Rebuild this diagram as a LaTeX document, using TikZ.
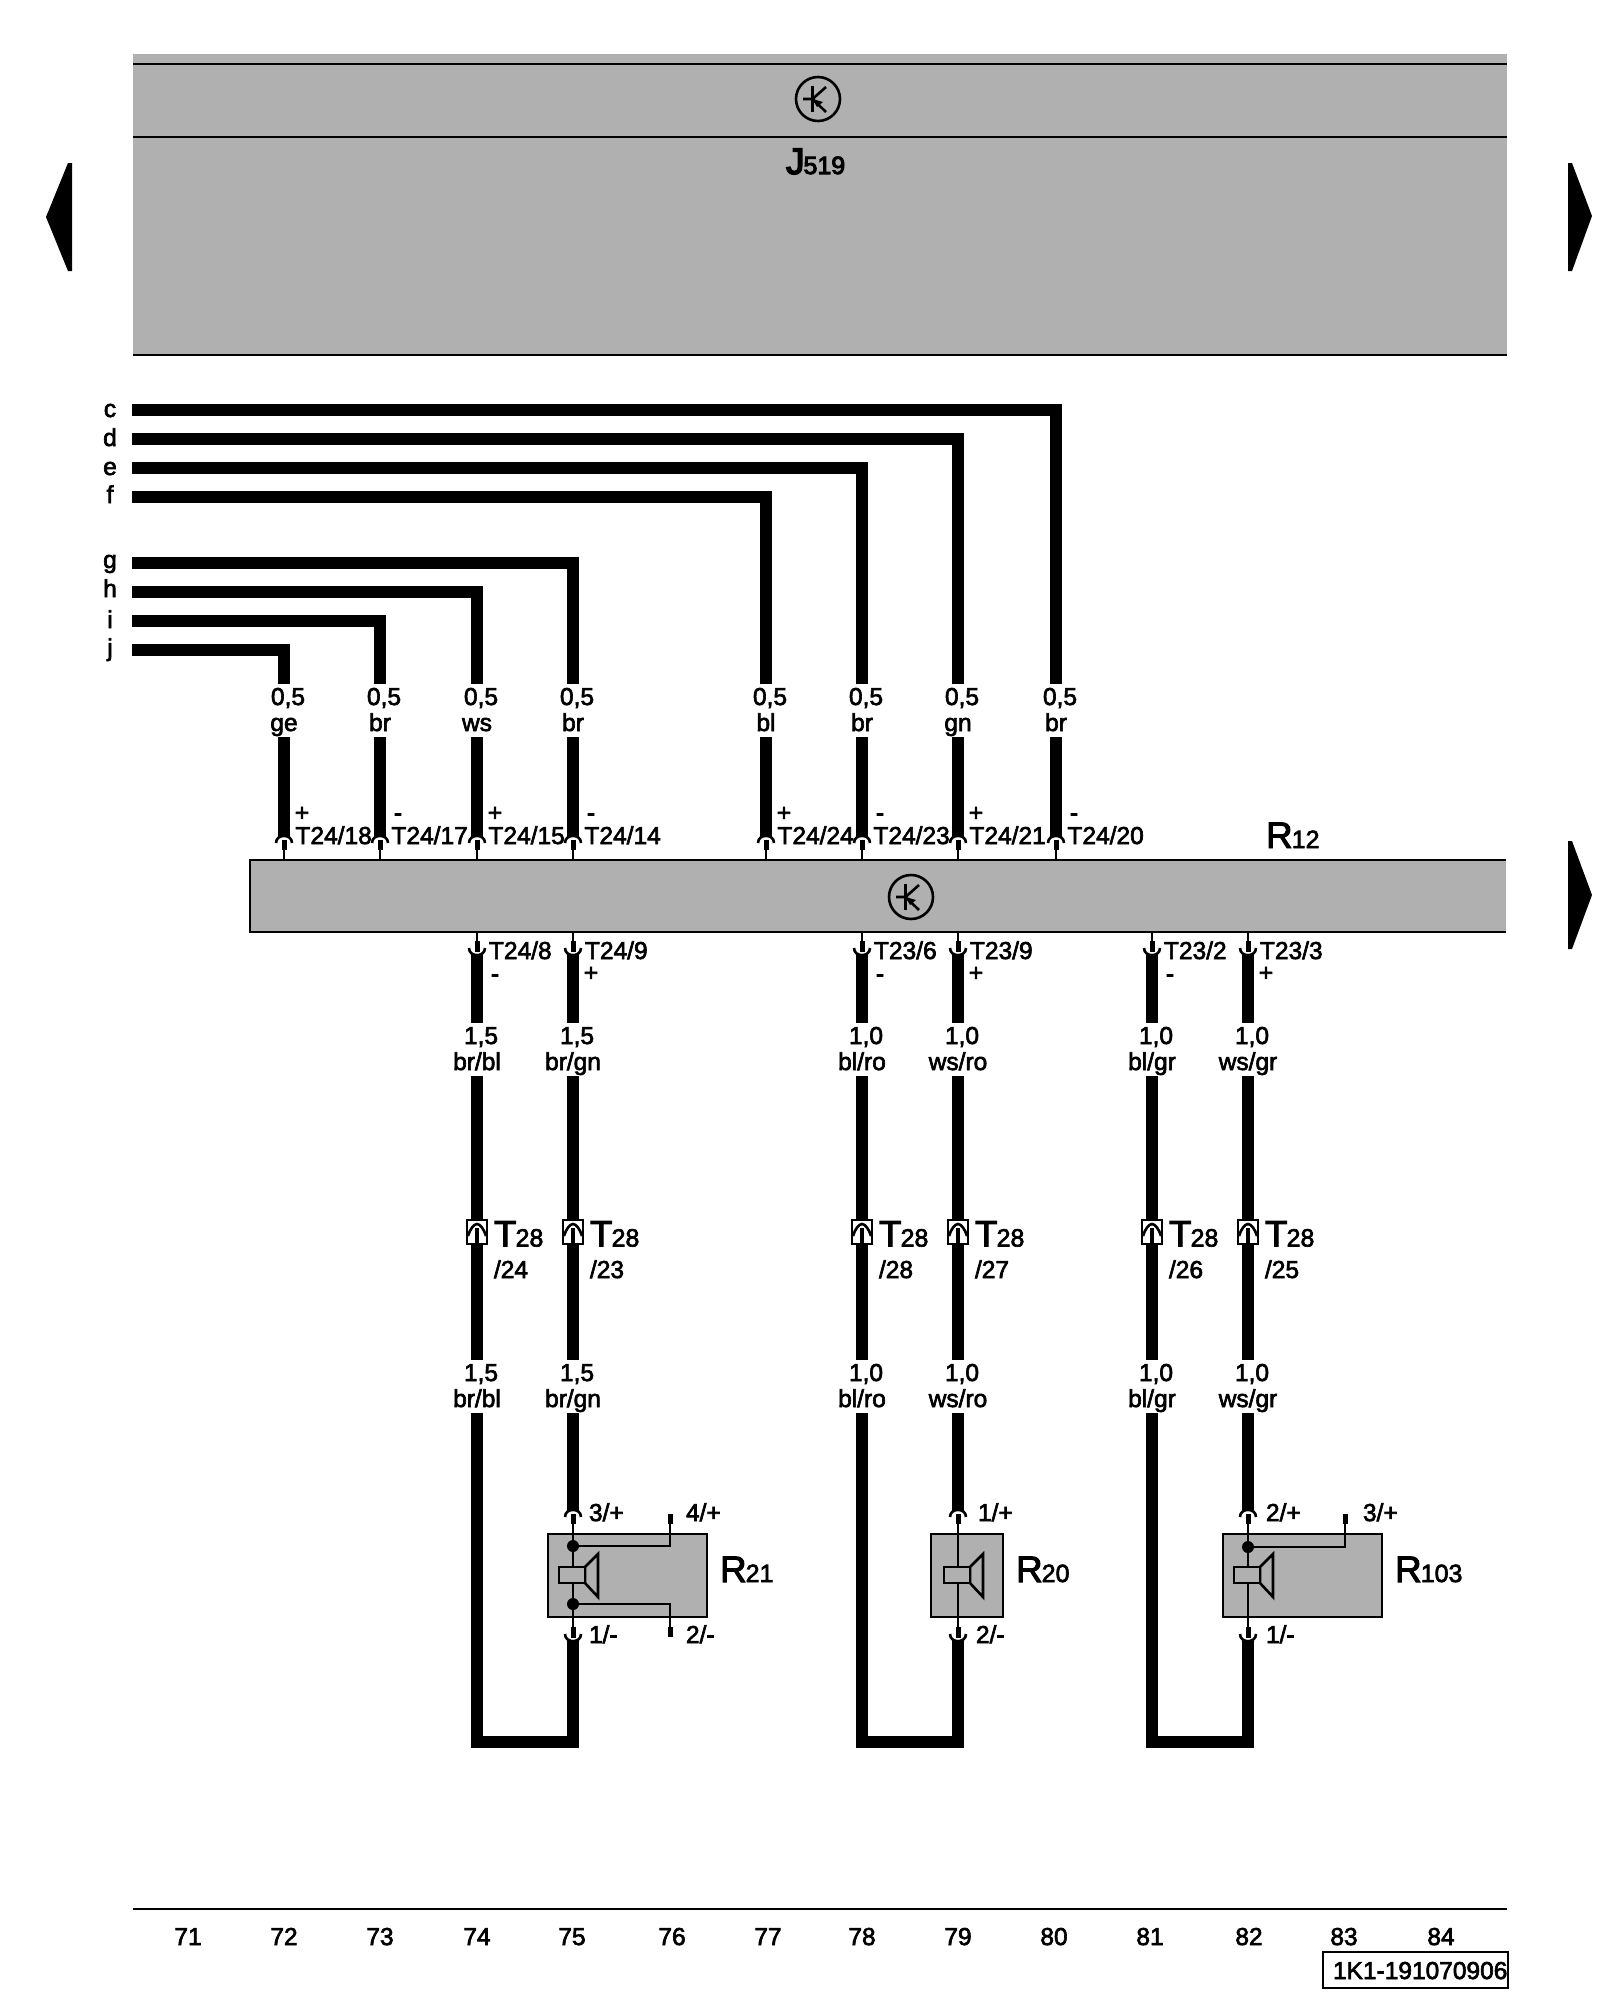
\documentclass[tikz,border=0pt]{standalone}
\usepackage{fontspec}
\setmainfont[FakeBold=2.6]{Liberation Sans}
\definecolor{boxgray}{RGB}{176,176,176}
\tikzset{
  x=1pt,y=-1pt,
  every node/.style={inner sep=0pt,outer sep=0pt},
  txt/.style={font=\fontsize{24.5}{26}\selectfont,anchor=base},
  txtl/.style={font=\fontsize{24.5}{26}\selectfont,anchor=base west},
  big/.style={anchor=base west},
  wire/.style={line width=11.8pt,line cap=butt,line join=miter,black},
  thinw/.style={line width=2.6pt,line cap=butt,line join=miter,black},
  pinw/.style={line width=5pt,line cap=butt,black},
  edge/.style={line width=2.6pt,black},
  gap/.style={minimum width=1pt,minimum height=53pt},
  tbox/.style={draw=black,line width=2.4pt,fill=white,minimum width=20pt,minimum height=24pt},
  gbox/.style={fill=boxgray,draw=black,line width=2.4pt,anchor=north west},
  dot/.style={circle,fill=black,minimum size=12pt},
}
\newcommand{\compl}[2]{{\fontsize{37}{38}\selectfont #1}{\fontsize{25}{26}\selectfont\kern-1pt #2}}
% wire-size label: a gap node that breaks the wire, with its two lines of text
\newcommand{\wlab}[5]{%
  \node[gap] (#1) at (#2,#3+26.5) {};
  \node[txt] (#1-a) at (#2+4,#3+21) {#4};
  \node[txt] (#1-b) at (#2,#3+47) {#5};}
% pin pointing up: #1 name, #2 x, #3 y of arc top; (#1) wire end, (#1-e) pin foot
\newcommand{\pinup}[3]{%
  \coordinate (#1) at (#2,#3+1);
  \coordinate (#1-e) at (#2,#3+14);
  \fill[white] (#2-7,#3+7) .. controls (#2-7,#3-2) and (#2+7,#3-2) .. (#2+7,#3+7) -- cycle;
  \draw[line width=2.6pt] (#2-8,#3+7) .. controls (#2-8,#3-2.5) and (#2+8,#3-2.5) .. (#2+8,#3+7);
  \draw[pinw] (#2,#3+3.5) -- (#1-e);}
% pin pointing down: #3 y of arc bottom
\newcommand{\pindown}[3]{%
  \coordinate (#1) at (#2,#3-1);
  \coordinate (#1-e) at (#2,#3-14);
  \fill[white] (#2-7,#3-7) .. controls (#2-7,#3+2) and (#2+7,#3+2) .. (#2+7,#3-7) -- cycle;
  \draw[line width=2.6pt] (#2-8,#3-7) .. controls (#2-8,#3+2.5) and (#2+8,#3+2.5) .. (#2+8,#3-7);
  \draw[pinw] (#2,#3-3.5) -- (#1-e);}
% control-unit symbol
\newcommand{\ctlsym}[3]{%
  \node[circle,draw=black,line width=2.6pt,minimum size=44pt] (#1) at (#2,#3) {};
  \draw[line width=2.6pt] (#2-5.5,#3-13) -- (#2-5.5,#3+13);
  \draw[line width=2.6pt] (#2-15,#3) -- (#2-5.5,#3) -- (#2+8,#3-12);
  \draw[line width=2.6pt] (#2-5.5,#3) -- (#2+8,#3+13);
  \fill (#2-5.5,#3) -- (#2+5,#3+3) -- (#2-1,#3+8) -- cycle;}
% speaker drawing on wire x=#1
\newcommand{\speaker}[1]{%
  \draw[thinw,fill=boxgray] (#1+12,1567) -- (#1+25,1554) -- (#1+25,1597) -- (#1+12,1583) -- cycle;
  \draw[thinw,fill=boxgray] (#1-14,1567) rectangle (#1+12,1583);}
\newcommand{\lowerwire}[8]{% key, x, connector text, sign, colour, size, T28 pin, sign baseline
  \pindown{q#1}{#2}{955}
  \draw[thinw] (q#1-e) -- (q#1-e |- R.south);
  \node[txtl] (tq#1) at (#2+12,959) {#3};
  \node[txt] (sq#1) at (#2+18,#8) {#4};
  \wlab{lu#1}{#2}{1023}{#6}{#5}
  \wlab{ld#1}{#2}{1360}{#6}{#5}
  \node[tbox] (t#1) at (#2,1232) {};
  \draw[wire] (q#1) -- (lu#1.north);
  \draw[wire] (lu#1.south) -- (t#1.north);
  \draw[wire] (t#1.south) -- (ld#1.north);
  \draw[line width=2.6pt] (#2-9,1236) .. controls (#2-7,1229) and (#2-3,1224) .. (#2,1224) .. controls (#2+3,1224) and (#2+7,1229) .. (#2+9,1236);
  \draw[line width=3.5pt] (#2,1228) -- (#2,1243);
  \node[big] (Tt#1) at (#2+17,1246.5) {\compl{T}{28}};
  \node[txtl] (Tp#1) at (#2+17,1278) {/#7};}
\newcommand{\spkbox}[3]{\node[gbox,minimum width=#3pt-#2pt,minimum height=83pt] (#1) at (#2,1534) {};}
\begin{document}
\begin{tikzpicture}
\useasboundingbox (0,0) rectangle (1600,2000);
\fill[white] (0,0) rectangle (1600,2000);

% J519 control unit
\node[fill=boxgray,minimum width=1374pt,minimum height=301pt,anchor=north west] (J) at (133,54) {};
\coordinate (Ja) at (133,64); \coordinate (Jb) at (133,137); \coordinate (Jc) at (133,355);
\draw[edge] (Ja) -- (Ja -| J.east);
\draw[edge] (Jb) -- (Jb -| J.east);
\draw[edge] (Jc) -- (Jc -| J.east);
\ctlsym{Jsym}{818}{99}
\node[big] (Jt) at (786,174) {\addfontfeature{FakeBold=4}\compl{J}{519}};

% page arrows
\fill[black] (72,163) -- (68,163) -- (46,217) -- (68,271) -- (72,271) -- cycle;
\fill[black] (1568,163) -- (1572,163) -- (1592,216) -- (1572,271) -- (1568,271) -- cycle;
\fill[black] (1568,841) -- (1572,841) -- (1592,895) -- (1572,949) -- (1568,949) -- cycle;

% R12 amplifier
\node[fill=boxgray,minimum width=1256pt,minimum height=72pt,anchor=north west] (R) at (250,860) {};
\draw[edge] (R.north east) -- (R.north west) -- (R.south west) -- (R.south east);
\ctlsym{Rsym}{911}{897}
\node[big] (Rt) at (1266,848) {\compl{R}{12}};

% wires from the left
\foreach \n/\y/\b/\lt in {c/410/417/c,d/439/446/d,e/468/475/e,f/497/503/f,g/563/568/g,h/592/597/h,i/621/628/i,j/650/656/j}{
  \node[txt] (l\n) at (110,\b) {\lt};
  \coordinate (s\n) at (132,\y);
}
\foreach \n/\x/\k/\tnum/\sgn/\col in {
  j/284/a/18/+/ge,i/380/b/17/-/br,h/477/c/15/+/ws,g/573/d/14/-/br,
  f/766/e/24/+/bl,e/862/f/23/-/br,d/958/g/21/+/gn,c/1056/h/20/-/br}{
  \wlab{up\k}{\x}{684}{0,5}{\col}
  \pinup{p\k}{\x}{836}
  \draw[wire] (s\n) -| (up\k.north);
  \draw[wire] (up\k.south) -- (p\k);
  \draw[thinw] (p\k-e) -- (p\k-e |- R.north);
  \node[txtl] (tp\k) at (\x+11.5,844) {T24/\tnum};
  \node[txt] (sg\k) at (\x+18,821) {\sgn};
}

% lower wires through T28
\lowerwire{a}{477}{T24/8}{-}{br/bl}{1,5}{24}{982}
\lowerwire{b}{573}{T24/9}{+}{br/gn}{1,5}{23}{981}
\lowerwire{c}{862}{T23/6}{-}{bl/ro}{1,0}{28}{982}
\lowerwire{d}{958}{T23/9}{+}{ws/ro}{1,0}{27}{981}
\lowerwire{e}{1152}{T23/2}{-}{bl/gr}{1,0}{26}{982}
\lowerwire{f}{1248}{T23/3}{+}{ws/gr}{1,0}{25}{981}

% speakers
\spkbox{Sa}{548}{707}
\spkbox{Sb}{931}{1003}
\spkbox{Sc}{1223}{1382}

\pinup{ru}{573}{1510}   \pindown{rd}{573}{1641}
\pinup{su}{958}{1510}   \pindown{sd}{958}{1641}
\pinup{tu}{1248}{1510}  \pindown{td}{1248}{1641}

\coordinate (yb) at (0,1742);
\foreach \a/\b/\lo in {a/b/r,c/d/s,e/f/t}{
  \draw[wire] (ld\b.south) -- (\lo u);
  \coordinate (bot\a) at (ld\a |- yb);
  \coordinate (bot\b) at (ld\b |- yb);
  \draw[wire] (ld\a.south) -- (bot\a) -- (bot\b) -- (\lo d);
  \draw[thinw] (\lo u-e) -- (\lo d-e);
}
\speaker{573}\speaker{958}\speaker{1248}

% extra contacts of R21 and R103
\node[dot] (d1) at (573,1546) {};
\node[dot] (d2) at (573,1604) {};
\node[dot] (d3) at (1248,1547) {};
\coordinate (ea) at (670,1514); \coordinate (eb) at (670,1637); \coordinate (ec) at (1345,1514);
\draw[thinw] (d1) -| (ea);
\draw[thinw] (d2) -| (eb);
\draw[thinw] (d3) -| (ec);
\draw[pinw] (ea) -- ++(0,10);
\draw[pinw] (eb) -- ++(0,-10);
\draw[pinw] (ec) -- ++(0,10);

\node[txtl] (n1) at (589,1521) {3/+};
\node[txtl] (n2) at (686,1521) {4/+};
\node[txtl] (n3) at (589,1643) {1/-};
\node[txtl] (n4) at (686,1643) {2/-};
\node[txtl] (n5) at (978,1521) {1/+};
\node[txtl] (n6) at (976,1643) {2/-};
\node[txtl] (n7) at (1266,1521) {2/+};
\node[txtl] (n8) at (1363,1521) {3/+};
\node[txtl] (n9) at (1266,1643) {1/-};
\node[big] (Ra) at (720,1582) {\compl{R}{21}};
\node[big] (Rb) at (1016,1582) {\compl{R}{20}};
\node[big] (Rc) at (1395,1582) {\compl{R}{103}};

% footer
\coordinate (fa) at (133,1909); \coordinate (fb) at (1507,1909);
\draw[edge] (fa) -- (fb);
\foreach \x/\lt in {188/71,284/72,380/73,477/74,572/75,672/76,768/77,862/78,958/79,1054/80,1150/81,1249/82,1344/83,1441/84}
  \node[txt] (c\lt) at (\x,1945) {\lt};
\node[draw=black,line width=2.6pt,minimum width=185pt,minimum height=36pt,anchor=north west] (F) at (1323,1952) {};
\node[txtl] (Ft) at (1333,1979) {1K1-191070906};
\end{tikzpicture}
\end{document}
